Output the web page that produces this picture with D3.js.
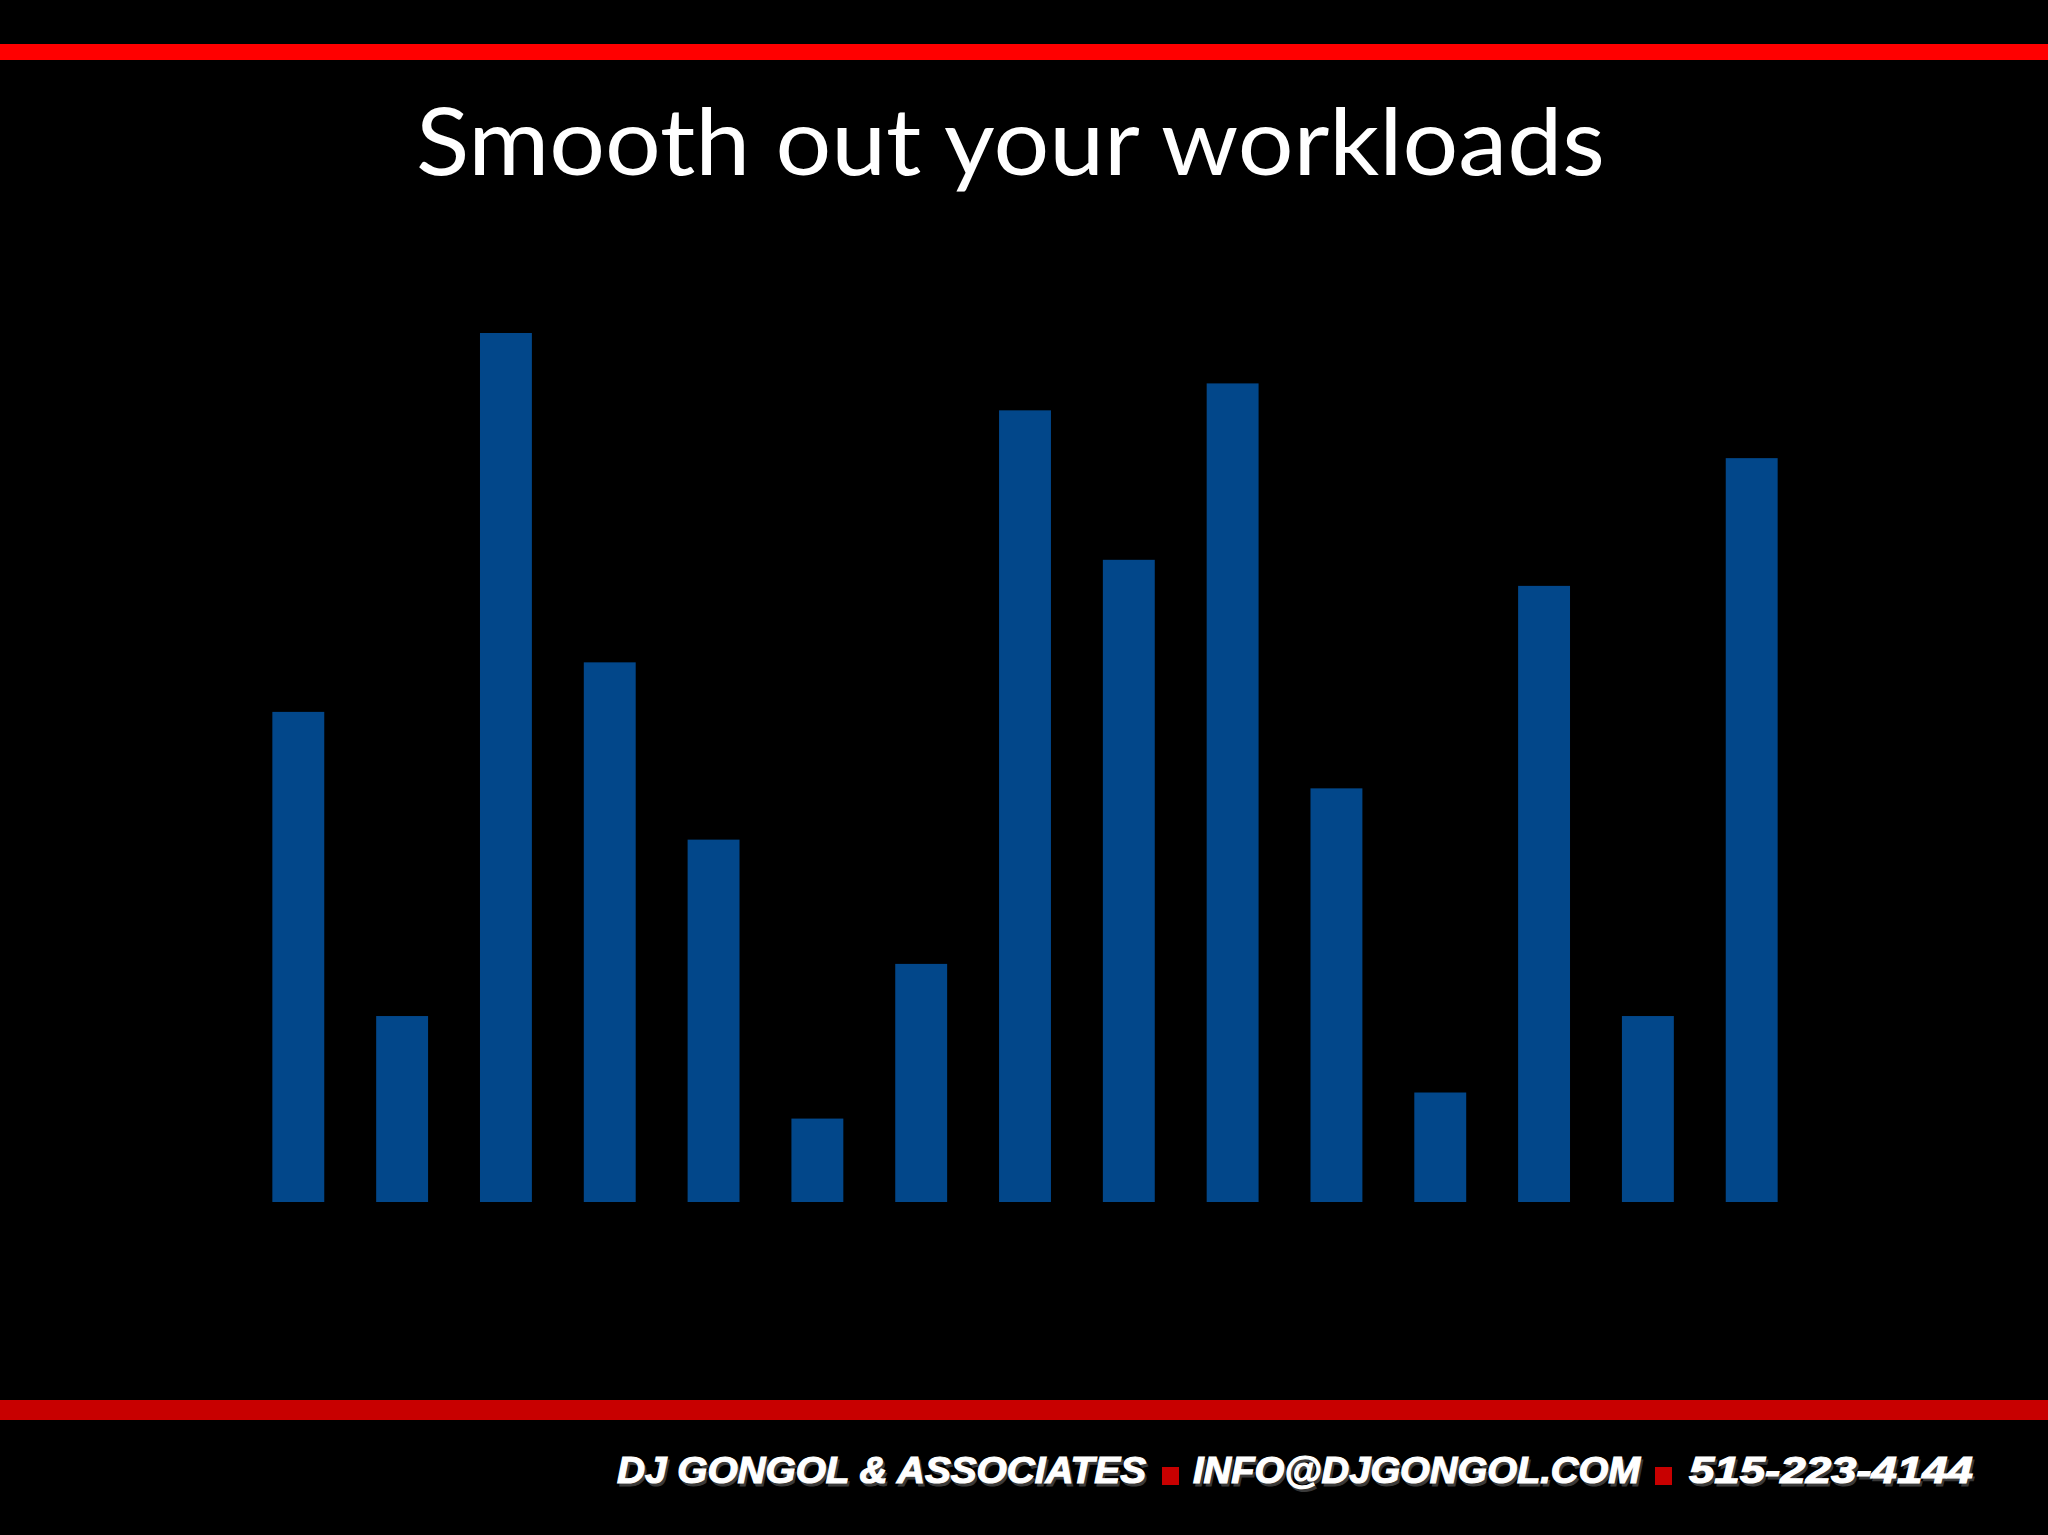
<!DOCTYPE html>
<html>
<head>
<meta charset="utf-8">
<script src="https://cdn.jsdelivr.net/npm/d3@7"></script>
<style>
  html, body { margin: 0; padding: 0; background: #000; }
  svg { display: block; }
</style>
</head>
<body>
<svg id="chart" width="2048" height="1535"></svg>
<script>
// ---- data ----
const categories = ["1","2","3","4","5","6","7","8","9","10","11","12","13","14","15"];
const workload = [56.4, 21.4, 100, 62.1, 41.7, 9.6, 27.4, 91.1, 73.9, 94.2, 47.6, 12.6, 70.9, 21.4, 85.6];
const titleText = "Smooth out your workloads";
const footerParts = ["DJ GONGOL & ASSOCIATES", "INFO@DJGONGOL.COM", "515-223-4144"];

// ---- drawing ----
const W = 2048, H = 1535;
const svg = d3.select("#chart");
svg.append("rect").attr("width", W).attr("height", H).attr("fill", "#000");

// top & bottom red rules
svg.append("rect").attr("x", 0).attr("y", 44).attr("width", W).attr("height", 16).attr("fill", "#ff0000");
svg.append("rect").attr("x", 0).attr("y", 1400).attr("width", W).attr("height", 20).attr("fill", "#c80000");

// title
svg.append("text")
  .attr("x", 416).attr("y", 175)
  .attr("fill", "#fff")
  .style("font-family", "Lato, 'Open Sans', sans-serif")
  .style("font-size", "93px")
  .attr("textLength", 1189)
  .attr("lengthAdjust", "spacingAndGlyphs")
  .text(titleText);

// scales
const x = d3.scaleBand().domain(categories).range([246.4, 1803.6]).paddingInner(0.5).paddingOuter(0.25);
const y = d3.scaleLinear().domain([0, 100]).range([1202, 333]);

svg.append("g").selectAll("rect")
  .data(categories.map((c, i) => ({c, v: workload[i]})))
  .join("rect")
  .attr("x", d => x(d.c))
  .attr("y", d => y(d.v))
  .attr("width", x.bandwidth())
  .attr("height", d => y(0) - y(d.v))
  .attr("fill", "#02478a");

// footer
const footer = svg.append("g")
  .style("font-family", "'Liberation Sans', Arial, sans-serif")
  .style("font-weight", "900")
  .style("font-style", "italic")
  .style("font-size", "36px");
const parts = [
  {t: footerParts[0], x0: 617, x1: 1146},
  {t: footerParts[1], x0: 1193, x1: 1640},
  {t: footerParts[2], x0: 1689, x1: 1973}
];
parts.forEach(p => {
  footer.append("text").attr("x", p.x0 + 2).attr("y", 1486)
    .attr("fill", "#3a3a3a").attr("stroke", "#3a3a3a").attr("stroke-width", 1)
    .attr("textLength", p.x1 - p.x0).attr("lengthAdjust", "spacingAndGlyphs").text(p.t);
  footer.append("text").attr("x", p.x0).attr("y", 1483)
    .attr("fill", "#fff").attr("stroke", "#fff").attr("stroke-width", 1.2)
    .attr("textLength", p.x1 - p.x0).attr("lengthAdjust", "spacingAndGlyphs").text(p.t);
});
[1162, 1655].forEach(sx => {
  svg.append("rect").attr("x", sx).attr("y", 1467).attr("width", 17).attr("height", 18).attr("fill", "#c80000");
});
</script>
</body>
</html>
